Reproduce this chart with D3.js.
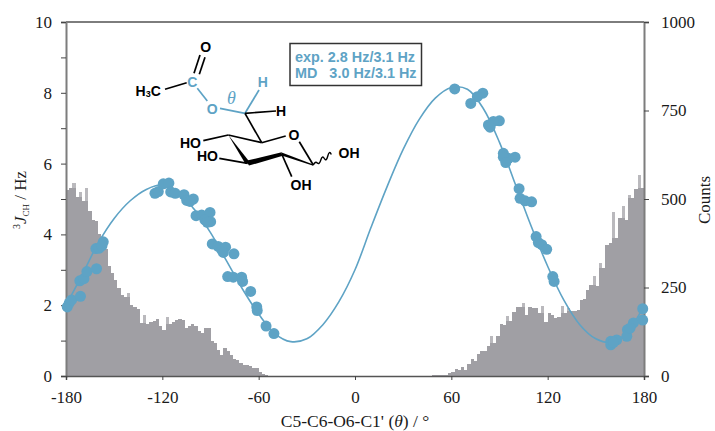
<!DOCTYPE html>
<html>
<head>
<meta charset="utf-8">
<script src="https://cdn.jsdelivr.net/npm/d3@7"></script>
<style>
  html, body { margin: 0; padding: 0; background: #fff; }
  svg { display: block; }
  text { font-family: "Liberation Serif", serif; fill: #1a1a1a; }
  .mol text { font-family: "Liberation Sans", sans-serif; font-weight: bold; font-size: 14px; dominant-baseline: central; }
</style>
</head>
<body>
<div id="grafico"></div>
<script>
// Histogram: counts per 2 degree bin, first bin starts at -180
const binStart = -180;
const binWidth = 2;
const counts = [
  525, 530, 545, 505, 520, 495, 530, 465, 440, 437,
  400, 385, 360, 310, 290, 272, 250, 228, 222, 235,
  200, 195, 190, 150, 173, 147, 152, 155, 160, 140,
  131, 167, 148, 152, 157, 161, 159, 136, 142, 148,
  140, 126, 121, 135, 135, 98, 92, 74, 58, 79,
  72, 60, 48, 46, 38, 32, 32, 27, 22, 22,
  10, 6, 2, 1, 1, 1, 0, 0, 0, 0,
  0, 0, 0, 0, 0, 0, 0, 0, 0, 0,
  0, 0, 0, 0, 0, 0, 0, 0, 0, 0,
  0, 0, 0, 0, 0, 0, 0, 0, 0, 0,
  0, 0, 0, 0, 0, 0, 0, 0, 0, 0,
  0, 0, 0, 1, 2, 2, 2, 4, 3, 8,
  10, 20, 17, 25, 18, 34, 48, 41, 62, 70,
  70, 84, 114, 93, 114, 148, 145, 170, 155, 180,
  196, 195, 205, 173, 196, 192, 192, 178, 198, 152,
  178, 173, 163, 168, 197, 177, 191, 183, 183, 187,
  215, 217, 242, 258, 283, 253, 320, 305, 371, 376,
  462, 390, 446, 480, 440, 512, 503, 527, 568, 530
];

// Fitted curve
const curveTheta = [-180, -170, -160, -150, -140, -130, -120, -110, -100, -90, -80, -70, -60, -50, -40, -30, -20, -10, 0, 10, 20, 30, 40, 50, 60, 70, 80, 90, 100, 110, 120, 130, 140, 150, 160, 170, 180];
const curveJ = [2.0, 2.85, 3.75, 4.45, 4.95, 5.27, 5.4, 5.2, 4.7, 4.05, 3.25, 2.45, 1.75, 1.2, 0.97, 1.05, 1.45, 2.1, 3.0, 4.2, 5.35, 6.4, 7.25, 7.85, 8.15, 8.1, 7.55, 6.6, 5.4, 4.2, 3.1, 2.15, 1.45, 1.05, 0.95, 1.25, 2.0];

// MD points
const puntosTheta = [-179.2, -178, -176.5, -171, -171.4, -168.8, -167, -161, -161.4, -159.3, -156.8, -157.6, -124.6, -122.5, -119.4, -115.9, -114.8, -112, -106.5, -104.8, -100.7, -102.8, -99, -95.5, -90.3, -93.5, -89.9, -92, -88.9, -85.2, -83, -80.6, -82, -75.4, -79.3, -75.8, -70.6, -70, -65, -61.2, -60.9, -55.4, -50.5, 62.1, 79.6, 76.2, 72.1, 89.9, 86.2, 83.1, 84.1, 99.7, 95.5, 92.4, 92.4, 93.9, 102.2, 102.8, 105.9, 110, 112.8, 114.2, 116.3, 119.4, 123.2, 124, 159.3, 159.3, 163, 161, 169.7, 169.3, 173.4, 171.3, 179.2, 179.2];
const puntosJ = [1.95, 2.06, 2.15, 2.25, 2.69, 2.75, 2.95, 3.03, 3.6, 3.61, 3.79, 3.68, 5.16, 5.21, 5.43, 5.45, 5.2, 5.16, 5.12, 4.96, 5.0, 4.93, 4.53, 4.55, 4.62, 4.41, 4.36, 4.34, 3.73, 3.66, 3.56, 3.64, 3.49, 3.45, 2.81, 2.79, 2.79, 2.67, 2.39, 1.95, 1.85, 1.41, 1.2, 8.11, 7.99, 7.89, 7.7, 7.21, 7.19, 7.09, 7.03, 6.18, 6.15, 6.29, 6.18, 6.03, 5.29, 5.02, 4.95, 4.92, 3.94, 3.77, 3.71, 3.58, 2.81, 2.67, 0.98, 0.88, 1.02, 0.95, 1.31, 1.12, 1.5, 1.35, 1.9, 1.58];

const xTicks = [-180, -120, -60, 0, 60, 120, 180];
const yTicks = [0, 1, 2, 3, 4, 5, 6, 7, 8, 9, 10];
const countTicks = [0, 250, 500, 750, 1000];

const azul = "#5ea3c5";
const cinza = "#a09fa4";
const cinzaClaro = "#bab9bd";
const eixo = "#7d7d7d";

const largura = 715, altura = 431;
const margem = { top: 22, right: 71, bottom: 55, left: 66 };

const svg = d3.select("#grafico").append("svg")
  .attr("width", largura).attr("height", altura);

const x = d3.scaleLinear().domain([-180, 180]).range([margem.left, largura - margem.right]);
const y = d3.scaleLinear().domain([0, 10]).range([altura - margem.bottom, margem.top]);
const yCounts = d3.scaleLinear().domain([0, 1000]).range([altura - margem.bottom, margem.top]);

const larguraBin = x(binWidth) - x(0);

// Histogram bars
svg.append("g").attr("shape-rendering", "crispEdges")
  .selectAll("rect").data(counts).enter().append("rect")
  .attr("x", (d, i) => x(binStart + i * binWidth))
  .attr("width", larguraBin)
  .attr("y", d => yCounts(d))
  .attr("height", d => yCounts(0) - yCounts(d))
  .attr("fill", cinza);

// Lone spikes look paler in the reference: tint the part above the neighbours
const vizinho = i => Math.max(counts[i - 1] || 0, counts[i + 1] || 0);
svg.append("g").attr("shape-rendering", "crispEdges")
  .selectAll("rect")
  .data(counts.map((d, i) => ({ d, i })).filter(o => o.d - vizinho(o.i) >= 8))
  .enter().append("rect")
  .attr("x", o => x(binStart + o.i * binWidth))
  .attr("width", larguraBin)
  .attr("y", o => yCounts(o.d))
  .attr("height", o => yCounts(vizinho(o.i)) - yCounts(o.d))
  .attr("fill", cinzaClaro);

// Axes
function estilo(g, cor, larg) {
  g.select(".domain").attr("stroke", cor).attr("stroke-width", larg);
  g.selectAll(".tick line").attr("stroke", "#444").attr("stroke-width", 1);
  g.selectAll(".tick text").attr("font-size", 17).attr("font-family", "Liberation Serif").attr("fill", "#1a1a1a");
}

svg.append("g")
  .attr("transform", `translate(${margem.left},0)`)
  .call(d3.axisLeft(y).tickValues(yTicks).tickSize(5).tickPadding(9)
    .tickFormat(d => d % 2 === 0 ? String(d) : ""))
  .call(g => estilo(g, eixo, 2));

svg.append("g")
  .attr("transform", `translate(${largura - margem.right},0)`)
  .call(d3.axisRight(yCounts).tickValues(countTicks).tickSize(5).tickPadding(12)
    .tickFormat(d => String(d)))
  .call(g => estilo(g, eixo, 2));

svg.append("g")
  .attr("transform", `translate(0,${altura - margem.bottom})`)
  .call(d3.axisBottom(x).tickValues(xTicks).tickSize(4).tickPadding(11)
    .tickFormat(d => String(d)))
  .call(g => estilo(g, "#555", 1.5));

svg.append("line")
  .attr("x1", margem.left).attr("x2", largura - margem.right)
  .attr("y1", margem.top).attr("y2", margem.top)
  .attr("stroke", eixo).attr("stroke-width", 2);

// Curve and points
const linha = d3.line().x(d => x(d[0])).y(d => y(d[1])).curve(d3.curveCatmullRom.alpha(0.5));
svg.append("path")
  .datum(curveTheta.map((t, i) => [t, curveJ[i]]))
  .attr("d", linha)
  .attr("fill", "none").attr("stroke", azul).attr("stroke-width", 1.6);

svg.append("g").selectAll("circle").data(puntosTheta).enter().append("circle")
  .attr("cx", d => x(d))
  .attr("cy", (d, i) => y(puntosJ[i]))
  .attr("r", 5.5)
  .attr("fill", azul);

// Axis titles
const tituloX = svg.append("text")
  .attr("x", 355).attr("y", 427).attr("text-anchor", "middle").attr("font-size", 17.5);
tituloX.append("tspan").text("C5-C6-O6-C1' (");
tituloX.append("tspan").attr("font-style", "italic").text("θ");
tituloX.append("tspan").text(") / °");

const tituloY = svg.append("text")
  .attr("transform", "translate(26,200) rotate(-90)")
  .attr("text-anchor", "middle").attr("font-size", 17);
tituloY.append("tspan").attr("font-size", 10).attr("dy", -6).text("3");
tituloY.append("tspan").attr("font-style", "italic").attr("dy", 6).text("J");
tituloY.append("tspan").attr("font-size", 9).attr("dy", 3).text("CH");
tituloY.append("tspan").attr("dy", -3).text(" / Hz");

svg.append("text")
  .attr("transform", "translate(710,200) rotate(-90)")
  .attr("text-anchor", "middle").attr("font-size", 17).text("Counts");

// Info box
svg.append("rect")
  .attr("x", 290).attr("y", 43.5).attr("width", 131.5).attr("height", 42)
  .attr("fill", "#fff").attr("stroke", "#333").attr("stroke-width", 1.5);
const caixa = svg.append("g").attr("class", "mol");
caixa.append("text").attr("x", 295).attr("y", 57).style("fill", azul).style("font-size", "14.4px").text("exp. 2.8 Hz/3.1 Hz");
caixa.append("text").attr("x", 295).attr("y", 73).style("fill", azul).style("font-size", "14.4px").text("MD\u00a0\u00a0 3.0 Hz/3.1 Hz");

// Molecule drawing
const mol = svg.append("g").attr("class", "mol");
const ligacoes = [
  [165, 89.3, 186.7, 82.7, "#000"],
  [194, 73.3, 200, 55, "#000"],
  [199.3, 74.3, 205, 57.3, "#000"],
  [197.3, 88.3, 207.3, 101, azul],
  [220, 108.3, 245, 113.3, azul],
  [245, 113.3, 259, 90, azul],
  [245, 113.3, 276, 111, "#000"],
  [245, 113.3, 261.7, 142.7, "#000"],
  [261.7, 142.7, 285.7, 136, "#000"],
  [299.3, 141.7, 313.3, 165, "#000"],
  [228.3, 135, 261.7, 142.7, "#000"],
  [203.3, 140.7, 228.3, 135, "#000"],
  [219.3, 158.3, 247.7, 163.3, "#000"],
  [281.7, 154, 291.7, 176.7, "#000"]
];
mol.selectAll("line").data(ligacoes).enter().append("line")
  .attr("x1", d => d[0]).attr("y1", d => d[1])
  .attr("x2", d => d[2]).attr("y2", d => d[3])
  .attr("stroke", d => d[4]).attr("stroke-width", 1.7);

// wedges and the thick front bond of the ring
const cunhas = [
  "228.3,135 245.5,164 250,162.5",
  "281.7,152.5 281.7,155.5 313.3,165.8 313.3,164.5",
  "246,160.8 281.7,152.3 282,156 249,165.6"
];
mol.selectAll("polygon").data(cunhas).enter().append("polygon")
  .attr("points", d => d).attr("fill", "#000");

// wavy bond
mol.append("path")
  .attr("d", "M313.3,165 q2,-4 4,-2 t3.5,-3 t3.5,-1.5 t3.5,-2.5 t3.5,-1.5")
  .attr("fill", "none").attr("stroke", "#000").attr("stroke-width", 1.4);

const rotulos = [
  ["O", 205.7, 47, "middle", "#000"],
  ["C", 192.3, 81.5, "middle", azul],
  ["O", 212.3, 108.5, "middle", azul],
  ["H", 262.7, 82, "middle", azul],
  ["H", 281, 111, "middle", "#000"],
  ["O", 294, 135, "middle", "#000"],
  ["HO", 180, 143, "end", "#000"],
  ["HO", 197, 156, "end", "#000"],
  ["OH", 301, 185, "middle", "#000"],
  ["OH", 338.5, 152.5, "start", "#000"]
];
mol.selectAll("text.rot").data(rotulos).enter().append("text")
  .attr("class", "rot")
  .attr("x", d => d[3] === "end" ? d[1] + 21 : d[1])
  .attr("y", d => d[2])
  .attr("text-anchor", d => d[3])
  .style("fill", d => d[4])
  .text(d => d[0]);

// H3C with subscript
const h3c = mol.append("text").attr("x", 135.5).attr("y", 91).style("fill", "#000");
h3c.append("tspan").text("H");
h3c.append("tspan").attr("dy", 3).style("font-size", "9px").text("3");
h3c.append("tspan").attr("dy", -3).text("C");

// theta label
svg.append("text").attr("x", 231.5).attr("y", 104)
  .attr("text-anchor", "middle").attr("font-size", 18).attr("font-style", "italic")
  .style("fill", azul).text("θ");
</script>
</body>
</html>
